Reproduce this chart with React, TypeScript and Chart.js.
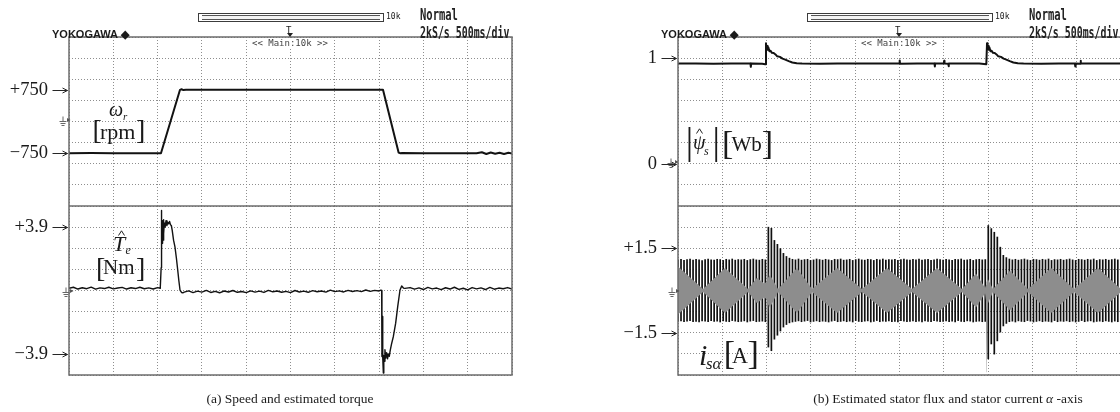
import React, { useEffect, useRef } from 'react';
import { Chart, registerables } from 'chart.js';

Chart.register(...registerables);

/* ---------------- time base: 10 div x 500 ms/div ---------------- */
const TIME_MIN = 0;
const TIME_MAX = 5;
const TIME_PER_DIV = 0.5;
const Y_DIVISIONS = 8;

/* ---------------- (a) rotor speed  [rpm] ---------------- */
const speedTime = [0, 0.25, 0.5, 0.75, 1.0, 1.038, 1.253, 1.27, 1.29, 1.32, 1.6, 2.0, 2.4, 2.8, 3.2, 3.544, 3.72, 3.736, 3.76, 4.0, 4.3, 4.6, 4.66, 4.71, 4.76, 4.81, 4.86, 4.91, 4.96, 5.0];
const speedRpm = [-750, -748, -752, -750, -751, -750, 750, 764, 744, 752, 750, 751, 749, 751, 750, 750, -735, -750, -746, -751, -749, -750, -728, -770, -735, -765, -738, -768, -740, -755];
const speedRange = [-2000, 2000];
const speedTickValues = [-750, 750];
const speedTickLabels = ['\u2212750', '+750'];

/* ---------------- (a) estimated torque  [Nm] ---------------- */
const torqueTime = [
  0, 0.05, 0.1, 0.15, 0.2, 0.25, 0.3, 0.35, 0.4, 0.45, 0.5, 0.55, 0.6, 0.65, 0.7, 0.75, 0.8, 0.85, 0.9, 0.95, 1.0, 1.03,
  1.038, 1.04, 1.043, 1.046, 1.05, 1.054, 1.058, 1.062, 1.066, 1.07, 1.076, 1.085, 1.095, 1.105, 1.115, 1.125, 1.135, 1.145, 1.155, 1.165, 1.18, 1.196, 1.212, 1.227, 1.24, 1.253, 1.27, 1.285,
  1.3, 1.35, 1.4, 1.45, 1.5, 1.55, 1.6, 1.65, 1.7, 1.75, 1.8, 1.85, 1.9, 1.95, 2.0, 2.05, 2.1, 2.15, 2.2, 2.25, 2.3, 2.35, 2.4, 2.45, 2.5, 2.55, 2.6, 2.65, 2.7, 2.75, 2.8, 2.85, 2.9, 2.95, 3.0, 3.05, 3.1, 3.15, 3.2, 3.25, 3.3, 3.35, 3.4, 3.45, 3.5,
  3.52, 3.529, 3.532, 3.535, 3.538, 3.541, 3.544, 3.548, 3.553, 3.558, 3.566, 3.575, 3.585, 3.595, 3.605, 3.615, 3.625, 3.64, 3.661, 3.687, 3.71, 3.736, 3.755, 3.775, 3.792,
  3.85, 3.9, 3.95, 4.0, 4.05, 4.1, 4.15, 4.2, 4.25, 4.3, 4.35, 4.4, 4.45, 4.5, 4.55, 4.6, 4.65, 4.7, 4.75, 4.8, 4.85, 4.9, 4.95, 5.0,
];
const torqueNm = [
  0.14, 0.2, 0.09, 0.17, 0.11, 0.21, 0.08, 0.16, 0.12, 0.2, 0.1, 0.15, 0.19, 0.09, 0.17, 0.12, 0.2, 0.11, 0.16, 0.09, 0.18, 0.14,
  0.14, 1.4, 4.93, 2.6, 4.3, 2.9, 4.2, 3.1, 4.35, 3.5, 4.15, 3.9, 4.3, 4.0, 4.2, 4.1, 4.25, 4.05, 4.0, 3.7, 3.1, 2.69, 2.0, 1.26, 0.6, 0.03, -0.12, -0.14,
  -0.1, -0.02, -0.13, -0.04, -0.1, 0.01, -0.12, -0.05, -0.14, -0.03, -0.09, 0.0, -0.11, -0.06, -0.13, -0.02, -0.1, -0.04, -0.12, 0.01, -0.08, -0.03, -0.11, -0.05, -0.13, 0.0, -0.09, -0.04, -0.11, -0.01, -0.08, -0.03, -0.1, 0.02, -0.07, -0.02, -0.09, 0.01, -0.06, -0.01, -0.07, 0.03, -0.05, 0.01, -0.03,
  0.02, 0.0, -4.06, -1.6, -4.0, -2.1, -4.1, -5.08, -4.0, -4.36, -3.65, -4.16, -3.83, -4.2, -3.9, -4.05, -3.7, -3.3, -2.83, -2.01, -0.99, 0.03, 0.28, 0.15, 0.13,
  0.18, 0.08, 0.16, 0.06, 0.19, 0.1, 0.15, 0.05, 0.17, 0.09, 0.2, 0.07, 0.14, 0.04, 0.18, 0.1, 0.16, 0.06, 0.19, 0.08, 0.15, 0.11, 0.18, 0.09,
];
const torqueRange = [-5.2, 5.2];
const torqueTickValues = [-3.9, 3.9];
const torqueTickLabels = ['\u22123.9', '+3.9'];

/* ---------------- (b) estimated stator flux magnitude  [Wb] ---------------- */
const fluxTime = [
  0, 0.2, 0.4, 0.6, 0.818, 0.822, 0.826, 0.95, 0.985,
  0.993, 0.999, 1.005, 1.012, 1.02, 1.032, 1.045, 1.06, 1.08, 1.1, 1.12, 1.15, 1.18, 1.21, 1.25, 1.29, 1.34, 1.4,
  1.6, 1.8, 2.0, 2.2, 2.498, 2.502, 2.506, 2.7, 2.895, 2.899, 2.903, 3.0, 3.004, 3.008, 3.05, 3.054, 3.058, 3.2, 3.4, 3.48,
  3.488, 3.494, 3.5, 3.507, 3.515, 3.527, 3.54, 3.555, 3.575, 3.595, 3.615, 3.645, 3.675, 3.705, 3.745, 3.785, 3.835, 3.9,
  4.1, 4.3, 4.48, 4.484, 4.488, 4.54, 4.544, 4.548, 4.7, 5.0,
];
const fluxWb = [
  0.948, 0.95, 0.947, 0.949, 0.948, 0.918, 0.949, 0.947, 0.943,
  1.142, 1.09, 1.115, 1.08, 1.1, 1.065, 1.07, 1.05, 1.048, 1.035, 1.017, 1.012, 0.995, 0.986, 0.972, 0.959, 0.951, 0.949,
  0.947, 0.95, 0.948, 0.949, 0.948, 0.978, 0.947, 0.949, 0.948, 0.921, 0.949, 0.948, 0.975, 0.948, 0.947, 0.923, 0.948, 0.948, 0.949, 0.943,
  1.142, 1.09, 1.115, 1.08, 1.1, 1.065, 1.07, 1.05, 1.048, 1.035, 1.017, 1.012, 0.995, 0.986, 0.972, 0.959, 0.951, 0.949,
  0.947, 0.949, 0.948, 0.921, 0.949, 0.947, 0.975, 0.948, 0.948, 0.949,
];
const fluxRange = [-0.4, 1.2];
const fluxTickValues = [0, 1];
const fluxTickLabels = ['0', '1'];

/* ---------------- (b) stator current alpha-axis  [A] ---------------- */
const CURRENT_STROKE_STEP = 0.034; // s between displayed current strokes (~3 px)
const currentPeakHi = [
  1.10, 1.12, 1.08, 1.11, 1.13, 1.09, 1.12, 1.10, 1.07, 1.11,
  1.13, 1.10, 1.09, 1.12, 1.11, 1.08, 1.12, 1.10, 1.13, 1.09,
  1.11, 1.10, 1.12, 1.08, 1.11, 1.13, 1.10, 1.09, 1.12, 1.10,
  2.26, 2.22, 1.79, 1.65, 1.50, 1.33, 1.22, 1.16, 1.12, 1.10,
  1.13, 1.09, 1.11, 1.12, 1.08, 1.10, 1.13, 1.11, 1.09, 1.12,
  1.10, 1.08, 1.12, 1.11, 1.13, 1.09, 1.10, 1.12, 1.08, 1.11,
  1.13, 1.10, 1.09, 1.12, 1.11, 1.08, 1.12, 1.10, 1.13, 1.09,
  1.11, 1.10, 1.12, 1.08, 1.11, 1.13, 1.10, 1.09, 1.12, 1.10,
  1.13, 1.09, 1.11, 1.12, 1.08, 1.10, 1.13, 1.11, 1.09, 1.12,
  1.10, 1.08, 1.12, 1.11, 1.13, 1.09, 1.10, 1.12, 1.08, 1.11,
  1.12, 1.10, 1.11, 2.32, 2.21, 2.08, 1.91, 1.55, 1.26, 1.18,
  1.13, 1.10, 1.12, 1.09, 1.11, 1.13, 1.10, 1.08, 1.12, 1.11,
  1.09, 1.12, 1.10, 1.13, 1.08, 1.11, 1.10, 1.12, 1.09, 1.11,
  1.13, 1.10, 1.08, 1.12, 1.11, 1.09, 1.12, 1.10, 1.13, 1.08,
  1.11, 1.10, 1.12, 1.09, 1.11, 1.13, 1.10, 1.12,
];
const currentPeakLo = [
  -1.11, -1.09, -1.12, -1.10, -1.08, -1.12, -1.11, -1.13, -1.09, -1.10,
  -1.12, -1.08, -1.11, -1.10, -1.13, -1.09, -1.11, -1.12, -1.08, -1.10,
  -1.12, -1.11, -1.09, -1.13, -1.10, -1.08, -1.12, -1.11, -1.10, -1.12,
  -2.02, -2.15, -1.74, -1.60, -1.45, -1.31, -1.22, -1.16, -1.13, -1.11,
  -1.09, -1.12, -1.10, -1.08, -1.13, -1.11, -1.09, -1.12, -1.10, -1.11,
  -1.13, -1.10, -1.08, -1.12, -1.11, -1.09, -1.12, -1.10, -1.13, -1.08,
  -1.11, -1.12, -1.10, -1.09, -1.13, -1.11, -1.08, -1.12, -1.10, -1.11,
  -1.09, -1.12, -1.11, -1.13, -1.08, -1.10, -1.12, -1.11, -1.09, -1.12,
  -1.10, -1.13, -1.09, -1.11, -1.12, -1.08, -1.10, -1.12, -1.11, -1.09,
  -1.12, -1.10, -1.13, -1.08, -1.11, -1.12, -1.09, -1.10, -1.13, -1.11,
  -1.10, -1.12, -1.11, -2.44, -1.91, -2.27, -1.80, -1.49, -1.27, -1.18,
  -1.12, -1.10, -1.13, -1.09, -1.11, -1.12, -1.08, -1.10, -1.13, -1.11,
  -1.09, -1.12, -1.10, -1.11, -1.13, -1.08, -1.12, -1.10, -1.11, -1.09,
  -1.12, -1.10, -1.13, -1.11, -1.08, -1.12, -1.10, -1.09, -1.13, -1.11,
  -1.10, -1.12, -1.09, -1.11, -1.13, -1.10, -1.12, -1.11,
];
// grey "beat" band in the middle of the current trace
const currentBandTime = [0, 0.282, 0.53, 0.79, 0.892, 0.971, 1.0, 1.005, 1.02, 1.038, 1.129, 1.343, 1.512, 1.795, 2.077, 2.359, 2.641, 2.923, 3.205, 3.363, 3.465, 3.478, 3.482, 3.49, 3.499, 3.555, 3.747, 3.95, 4.21, 4.47, 4.74, 5.0];
const currentBandHi = [0.85, 0.05, 0.8, 0.05, 0.45, 0.25, 0.3, 1.23, 0.45, 0.55, 0.05, 0.8, 0.05, 0.8, 0.05, 0.8, 0.05, 0.8, 0.05, 0.6, 0.1, 0.2, 0.3, 0.35, 0.4, 0.05, 0.7, 0.05, 0.8, 0.05, 0.8, 0.05];
const currentBandLo = [-0.85, -0.05, -0.8, -0.05, -0.45, -0.25, -0.3, -1.89, -0.5, -0.6, -0.05, -0.8, -0.05, -0.8, -0.05, -0.8, -0.05, -0.8, -0.05, -0.6, -0.1, -0.4, -2.9, -0.9, -0.45, -0.05, -0.7, -0.05, -0.8, -0.05, -0.8, -0.05];
const currentRange = [-3, 3];
const currentTickValues = [-1.5, 1.5];
const currentTickLabels = ['\u22121.5', '+1.5'];

/* ---------------- styling ---------------- */
const SERIF = '"Liberation Serif", "Times New Roman", serif';
const MONO = '"DejaVu Sans Mono", monospace';
const SANS = '"Liberation Sans", Arial, sans-serif';
const GRID_COLOR = '#8e8e8e';
const FRAME_COLOR = '#6c6c6c';
const TRACE_COLOR = '#121212';
const INK = '#1a1a1a';
const ARROW_LEN = 15;

const near = (a: number, b: number) => Math.abs(a - b) < 1e-6;

const framePlugin = {
  id: 'scopeFrame',
  afterDatasetsDraw(chart: any) {
    const { ctx, chartArea: a } = chart;
    ctx.save();
    ctx.strokeStyle = FRAME_COLOR;
    ctx.lineWidth = 1.5;
    ctx.strokeRect(a.left, a.top, a.right - a.left, a.bottom - a.top);
    ctx.restore();
  },
};

// small pointer arrows between each level label and the frame
const pointerPlugin = {
  id: 'levelPointers',
  afterDraw(chart: any, _args: any, opts: any) {
    const { ctx, chartArea: a } = chart;
    const scale = chart.scales.y;
    ctx.save();
    ctx.strokeStyle = '#262626';
    ctx.lineWidth = 1;
    (opts.values || []).forEach((v: number) => {
      const y = Math.round(scale.getPixelForValue(v)) + 0.5;
      const x1 = a.left - 1.5;
      ctx.beginPath();
      ctx.moveTo(x1 - ARROW_LEN, y);
      ctx.lineTo(x1, y);
      ctx.moveTo(x1 - 5, y - 2.5);
      ctx.lineTo(x1, y);
      ctx.lineTo(x1 - 5, y + 2.5);
      ctx.stroke();
    });
    ctx.restore();
  },
};

type Spec = {
  left: number; top: number; width: number; height: number;
  pad: { left: number; right: number; top: number; bottom: number };
  axisWidth: number;
  range: number[];
  tickValues: number[];
  tickLabels: string[];
  type: 'line' | 'bar';
  datasets: any[];
};

function buildConfig(spec: Spec): any {
  const [yMin, yMax] = spec.range;
  const yStep = (yMax - yMin) / Y_DIVISIONS;
  const gridVals = Array.from({ length: Y_DIVISIONS + 1 }, (_, i) => +(yMin + i * yStep).toFixed(6));
  const isGrid = (v: number) => gridVals.some((g) => near(g, v));
  const xCount = Math.round((TIME_MAX - TIME_MIN) / TIME_PER_DIV);
  const xVals = Array.from({ length: xCount + 1 }, (_, i) => +(TIME_MIN + i * TIME_PER_DIV).toFixed(6));
  return {
    type: spec.type,
    data: { datasets: spec.datasets },
    options: {
      responsive: false,
      animation: false,
      events: [],
      layout: { padding: spec.pad },
      plugins: {
        legend: { display: false },
        tooltip: { enabled: false },
        title: { display: false },
        levelPointers: { values: spec.tickValues },
      },
      scales: {
        x: {
          type: 'linear',
          min: TIME_MIN,
          max: TIME_MAX,
          offset: false,
          afterBuildTicks: (s: any) => { s.ticks = xVals.map((v) => ({ value: v })); },
          ticks: { display: false },
          grid: { color: GRID_COLOR, lineWidth: 1, drawTicks: false, offset: false },
          border: { display: false, dash: [1, 2] },
          afterFit: (s: any) => { s.height = 0; s.paddingLeft = 0; s.paddingRight = 0; s.paddingTop = 0; s.paddingBottom = 0; },
        },
        y: {
          type: 'linear',
          min: yMin,
          max: yMax,
          afterBuildTicks: (s: any) => {
            const vals = [...gridVals];
            spec.tickValues.forEach((v) => { if (!isGrid(v)) vals.push(v); });
            vals.sort((a, b) => a - b);
            s.ticks = vals.map((v) => ({ value: v }));
          },
          ticks: {
            autoSkip: false,
            padding: ARROW_LEN + 6,
            color: INK,
            font: { family: SERIF, size: 18.5 },
            callback: (v: any) => {
              const k = spec.tickValues.findIndex((t) => near(t, Number(v)));
              return k >= 0 ? spec.tickLabels[k] : '';
            },
          },
          grid: {
            color: (c: any) => (c.tick && isGrid(c.tick.value) ? GRID_COLOR : 'rgba(0,0,0,0)'),
            lineWidth: 1,
            drawTicks: false,
          },
          border: { display: false, dash: [1, 2] },
          afterFit: (s: any) => { s.width = spec.axisWidth; s.paddingTop = 0; s.paddingBottom = 0; },
        },
      },
    },
    plugins: [framePlugin, pointerPlugin],
  };
}

function Panel({ spec }: { spec: Spec }) {
  const ref = useRef<HTMLCanvasElement>(null);
  useEffect(() => {
    const chart = new Chart(ref.current as HTMLCanvasElement, buildConfig(spec));
    return () => chart.destroy();
  }, []);
  return (
    <canvas
      ref={ref}
      width={spec.width}
      height={spec.height}
      style={{ position: 'absolute', left: spec.left, top: spec.top, width: spec.width, height: spec.height }}
    />
  );
}

const traceLine = (xs: number[], ys: number[], width: number) => ({
  type: 'line',
  data: xs.map((t, i) => ({ x: t, y: ys[i] })),
  borderColor: TRACE_COLOR,
  borderWidth: width,
  pointRadius: 0,
  tension: 0,
  borderJoinStyle: 'round',
});

const speedSpec: Spec = {
  left: 0, top: 0, width: 560, height: 206,
  pad: { left: 0, right: 48, top: 37, bottom: 0 },
  axisWidth: 69, range: speedRange, tickValues: speedTickValues, tickLabels: speedTickLabels,
  type: 'line', datasets: [traceLine(speedTime, speedRpm, 2)],
};
const torqueSpec: Spec = {
  left: 0, top: 206, width: 560, height: 206,
  pad: { left: 0, right: 48, top: 0, bottom: 37 },
  axisWidth: 69, range: torqueRange, tickValues: torqueTickValues, tickLabels: torqueTickLabels,
  type: 'line', datasets: [traceLine(torqueTime, torqueNm, 1.4)],
};
const fluxSpec: Spec = {
  left: 560, top: 0, width: 562, height: 206,
  pad: { left: 0, right: 1, top: 37, bottom: 0 },
  axisWidth: 118, range: fluxRange, tickValues: fluxTickValues, tickLabels: fluxTickLabels,
  type: 'line', datasets: [traceLine(fluxTime, fluxWb, 2)],
};
const currentSpec: Spec = {
  left: 560, top: 206, width: 562, height: 206,
  pad: { left: 0, right: 1, top: 0, bottom: 37 },
  axisWidth: 118, range: currentRange, tickValues: currentTickValues, tickLabels: currentTickLabels,
  type: 'bar',
  datasets: [
    // grey beat band, drawn on top of the strokes
    {
      type: 'line',
      data: currentBandTime.map((t, i) => ({ x: t, y: currentBandHi[i] })),
      borderColor: 'rgba(0,0,0,0)',
      borderWidth: 0,
      pointRadius: 0,
      tension: 0,
      fill: '+1',
      backgroundColor: '#8d8d8d',
    },
    {
      type: 'line',
      data: currentBandTime.map((t, i) => ({ x: t, y: currentBandLo[i] })),
      borderColor: 'rgba(0,0,0,0)',
      borderWidth: 0,
      pointRadius: 0,
      tension: 0,
      fill: false,
    },
    // black current strokes (per-cycle peak-to-peak)
    {
      type: 'bar',
      data: currentPeakHi.map((hi, i) => ({ x: i * CURRENT_STROKE_STEP, y: [currentPeakLo[i], hi] })),
      backgroundColor: '#101010',
      borderWidth: 0,
      barThickness: 1.7,
      inflateAmount: 0,
      grouped: false,
    },
  ],
};

/* ---------------- DOM overlay helpers ---------------- */
function Txt(props: { x: number; base: number; size: number; italic?: boolean; sx?: number; family?: string; color?: string; children: any }) {
  const { x, base, size, italic, sx = 1, family = SERIF, color = INK, children } = props;
  return (
    <span
      style={{
        position: 'absolute', left: x, top: base - 0.8375 * size, fontSize: size, lineHeight: `${size}px`,
        fontFamily: family, fontStyle: italic ? 'italic' : 'normal', color, whiteSpace: 'nowrap',
        transform: sx !== 1 ? `scaleX(${sx})` : undefined, transformOrigin: 'left top',
      }}
    >
      {children}
    </span>
  );
}

function Hat({ x, y, w }: { x: number; y: number; w: number }) {
  return (
    <svg style={{ position: 'absolute', left: x, top: y }} width={w} height={6}>
      <polyline points={`0.5,5.5 ${w / 2},0.8 ${w - 0.5},5.5`} stroke="#222" strokeWidth={1} fill="none" />
    </svg>
  );
}

function Ground({ x, y }: { x: number; y: number }) {
  return (
    <svg style={{ position: 'absolute', left: x, top: y }} width={12} height={12}>
      <path d="M4 0.5 V5.5 M0.5 5.5 H7.5 M1.5 7.5 H6.5 M2.5 9.5 H5.5" stroke="#666" strokeWidth={1} fill="none" />
      <path d="M8 2 L11.5 4 L8 6 Z" fill="#555" />
    </svg>
  );
}

function ScopeHeader({ dx }: { dx: number }) {
  const lcd = { fontFamily: MONO, color: '#222', whiteSpace: 'nowrap' as const, transformOrigin: 'left top' };
  return (
    <>
      <span style={{ position: 'absolute', left: 52 + dx, top: 28.5, font: `bold 11px ${SANS}`, lineHeight: '11px', color: INK, whiteSpace: 'nowrap' }}>
        YOKOGAWA ◆
      </span>
      <div style={{ position: 'absolute', left: 198 + dx, top: 12.5, width: 186, height: 9.5, boxSizing: 'border-box', border: '1px solid #3c3c3c' }} />
      <div style={{ position: 'absolute', left: 202 + dx, top: 14.5, width: 178, height: 5.5, boxSizing: 'border-box', borderTop: '1px solid #555', borderBottom: '1px solid #555', background: '#f4f4f4' }} />
      <span style={{ ...lcd, position: 'absolute', left: 386 + dx, top: 13, fontSize: 8, lineHeight: '8px' }}>10k</span>
      <span style={{ ...lcd, position: 'absolute', left: 286 + dx, top: 26, fontSize: 9, lineHeight: '9px' }}>T</span>
      <div style={{ position: 'absolute', left: 287 + dx, top: 33, width: 0, height: 0, borderLeft: '3px solid transparent', borderRight: '3px solid transparent', borderTop: '4px solid #222' }} />
      <span style={{ ...lcd, position: 'absolute', left: 420 + dx, top: 8, fontSize: 15, lineHeight: '15px', fontWeight: 'bold', transform: 'scaleX(0.7)' }}>Normal</span>
      <span style={{ ...lcd, position: 'absolute', left: 420 + dx, top: 26, fontSize: 15, lineHeight: '15px', fontWeight: 'bold', transform: 'scaleX(0.66)' }}>2kS/s 500ms/div</span>
      <span style={{ ...lcd, position: 'absolute', left: 252 + dx, top: 39.4, fontSize: 9, lineHeight: '9px', background: '#fff', color: '#444' }}>
        {'<< Main:10k >>'}
      </span>
    </>
  );
}

export default function App() {
  return (
    <div style={{ position: 'absolute', left: 0, top: 0, width: 1120, height: 412, overflow: 'hidden', background: '#fff', fontFamily: SERIF }}>
      <Panel spec={speedSpec} />
      <Panel spec={torqueSpec} />
      <Panel spec={fluxSpec} />
      <Panel spec={currentSpec} />

      <ScopeHeader dx={0} />
      <ScopeHeader dx={609} />

      {/* (a) top: speed */}
      <Txt x={109} base={116} size={20} italic>ω</Txt>
      <Txt x={123} base={120.5} size={11} italic>r</Txt>
      <Txt x={92.5} base={139} size={28}>[</Txt>
      <Txt x={100} base={139} size={22}>rpm</Txt>
      <Txt x={136} base={139} size={28}>]</Txt>
      <Ground x={59} y={116} />

      {/* (a) bottom: torque */}
      <Txt x={113} base={251.7} size={22} italic>T</Txt>
      <Hat x={118} y={229.5} w={7} />
      <Txt x={125.5} base={254} size={12} italic>e</Txt>
      <Txt x={96} base={277.5} size={28}>[</Txt>
      <Txt x={103} base={275} size={21}>Nm</Txt>
      <Txt x={136} base={277.5} size={28}>]</Txt>
      <Ground x={62} y={287} />

      {/* (b) top: flux */}
      <Txt x={685.7} base={154} size={37}>|</Txt>
      <Txt x={693} base={149} size={20} italic>ψ</Txt>
      <Hat x={696} y={128} w={7} />
      <Txt x={704} base={155} size={12} italic>s</Txt>
      <Txt x={712.4} base={154} size={37}>|</Txt>
      <Txt x={722} base={154.7} size={34}>[</Txt>
      <Txt x={731.5} base={152} size={21}>Wb</Txt>
      <Txt x={761.8} base={154.7} size={34}>]</Txt>
      <Ground x={667} y={158} />

      {/* (b) bottom: current */}
      <Txt x={699} base={365.5} size={30} italic>i</Txt>
      <Txt x={706} base={369} size={17} italic>sα</Txt>
      <Txt x={723.7} base={364.7} size={34}>[</Txt>
      <Txt x={731.5} base={363.5} size={24} sx={0.92}>A</Txt>
      <Txt x={747.4} base={364.7} size={34}>]</Txt>
      <Ground x={668} y={287} />

      {/* captions */}
      <span style={{ position: 'absolute', left: 290, top: 391.7, transform: 'translateX(-50%)', fontSize: 13.5, lineHeight: '13.5px', fontFamily: SERIF, color: INK, whiteSpace: 'nowrap' }}>
        (a) Speed and estimated torque
      </span>
      <span style={{ position: 'absolute', left: 948, top: 391.7, transform: 'translateX(-50%)', fontSize: 13.5, lineHeight: '13.5px', fontFamily: SERIF, color: INK, whiteSpace: 'nowrap' }}>
        (b) Estimated stator flux and stator current <i>α</i> -axis
      </span>
    </div>
  );
}
